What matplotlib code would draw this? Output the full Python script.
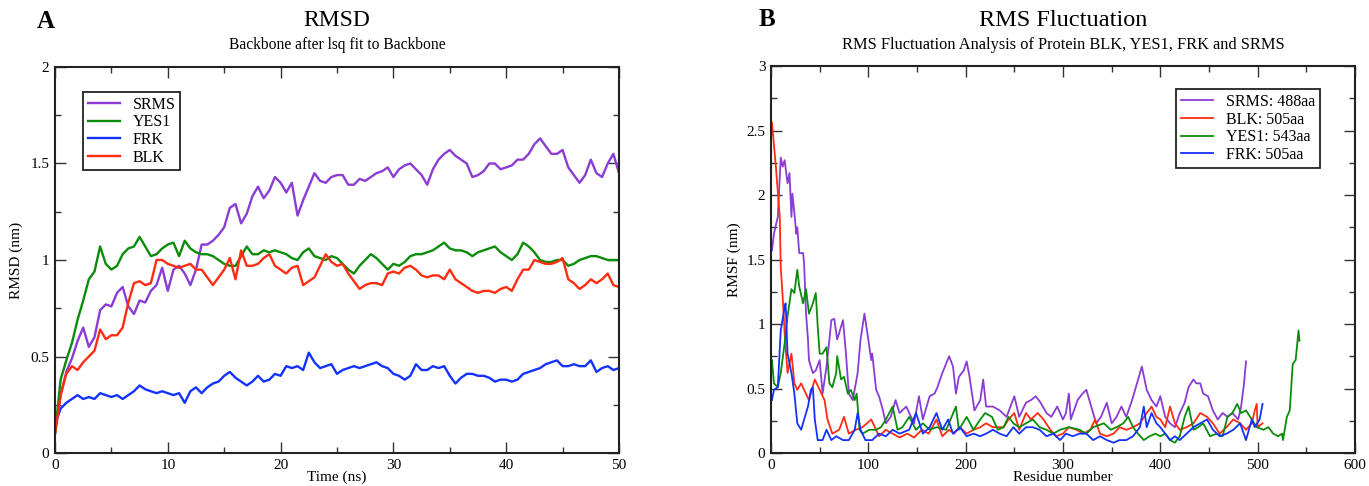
import matplotlib
matplotlib.use("Agg")
import matplotlib.pyplot as plt
from matplotlib.ticker import MultipleLocator, FuncFormatter

plt.rcParams['font.family'] = ['Liberation Serif', 'DejaVu Serif']

# ---------------- RMSD data (time in ns, RMSD in nm) ----------------
time_ns = [i * 0.5 for i in range(101)]

rmsd_srms = [0.10, 0.30, 0.42, 0.49, 0.58, 0.65, 0.55, 0.60, 0.74, 0.77,
             0.76, 0.83, 0.86, 0.76, 0.72, 0.79, 0.78, 0.84, 0.87, 0.96,
             0.84, 0.95, 0.97, 0.93, 0.87, 0.95, 1.08, 1.08, 1.10, 1.13,
             1.17, 1.27, 1.29, 1.19, 1.24, 1.33, 1.38, 1.32, 1.36, 1.43,
             1.40, 1.35, 1.40, 1.23, 1.31, 1.38, 1.45, 1.41, 1.40, 1.43,
             1.44, 1.44, 1.39, 1.39, 1.42, 1.41, 1.43, 1.45, 1.46, 1.48,
             1.43, 1.47, 1.49, 1.50, 1.47, 1.44, 1.39, 1.47, 1.52, 1.55,
             1.57, 1.54, 1.52, 1.50, 1.43, 1.44, 1.46, 1.50, 1.50, 1.47,
             1.48, 1.49, 1.52, 1.52, 1.55, 1.60, 1.63, 1.59, 1.55, 1.55,
             1.57, 1.48, 1.44, 1.40, 1.44, 1.52, 1.45, 1.43, 1.50, 1.55,
             1.45]

rmsd_yes1 = [0.10, 0.38, 0.48, 0.57, 0.69, 0.79, 0.90, 0.94, 1.07, 0.98,
             0.95, 0.97, 1.03, 1.06, 1.07, 1.12, 1.07, 1.02, 1.03, 1.06,
             1.08, 1.09, 1.02, 1.10, 1.06, 1.04, 1.03, 1.03, 1.02, 1.00,
             0.98, 0.97, 0.97, 1.02, 1.07, 1.03, 1.03, 1.05, 1.04, 1.05,
             1.04, 1.03, 1.01, 1.00, 1.04, 1.06, 1.02, 1.01, 1.00, 1.02,
             1.01, 0.98, 0.95, 0.93, 0.97, 1.00, 1.03, 1.01, 0.98, 0.95,
             0.98, 0.97, 0.99, 1.02, 1.03, 1.03, 1.04, 1.05, 1.07, 1.09,
             1.06, 1.05, 1.05, 1.04, 1.02, 1.04, 1.05, 1.06, 1.07, 1.04,
             1.02, 1.00, 1.03, 1.09, 1.07, 1.04, 1.00, 0.99, 0.99, 1.00,
             1.00, 0.97, 0.98, 1.00, 1.01, 1.02, 1.02, 1.01, 1.00, 1.00,
             1.00]

rmsd_frk = [0.15, 0.23, 0.26, 0.28, 0.30, 0.28, 0.29, 0.28, 0.31, 0.30,
            0.29, 0.30, 0.28, 0.30, 0.32, 0.35, 0.33, 0.32, 0.31, 0.32,
            0.31, 0.30, 0.31, 0.26, 0.32, 0.34, 0.31, 0.34, 0.36, 0.37,
            0.40, 0.42, 0.39, 0.37, 0.35, 0.37, 0.40, 0.37, 0.38, 0.41,
            0.40, 0.45, 0.44, 0.45, 0.43, 0.52, 0.47, 0.44, 0.45, 0.46,
            0.41, 0.43, 0.44, 0.45, 0.44, 0.45, 0.46, 0.47, 0.45, 0.44,
            0.41, 0.40, 0.38, 0.40, 0.46, 0.43, 0.43, 0.45, 0.44, 0.45,
            0.40, 0.36, 0.39, 0.41, 0.41, 0.40, 0.40, 0.39, 0.37, 0.38,
            0.38, 0.37, 0.38, 0.41, 0.42, 0.43, 0.44, 0.46, 0.47, 0.48,
            0.45, 0.45, 0.46, 0.45, 0.45, 0.48, 0.42, 0.44, 0.45, 0.43,
            0.44]

rmsd_blk = [0.10, 0.30, 0.41, 0.45, 0.43, 0.47, 0.50, 0.53, 0.64, 0.59,
            0.61, 0.61, 0.65, 0.78, 0.88, 0.89, 0.87, 0.88, 1.00, 1.00,
            0.98, 0.97, 0.96, 0.97, 0.98, 0.95, 0.95, 0.91, 0.87, 0.91,
            0.95, 1.01, 0.90, 1.05, 0.97, 0.97, 0.98, 1.01, 1.03, 0.97,
            0.95, 0.93, 0.96, 0.97, 0.87, 0.89, 0.91, 0.97, 1.03, 0.99,
            0.97, 0.98, 0.93, 0.89, 0.85, 0.87, 0.88, 0.88, 0.87, 0.93,
            0.94, 0.93, 0.96, 0.97, 0.95, 0.92, 0.91, 0.92, 0.92, 0.90,
            0.95, 0.90, 0.88, 0.86, 0.84, 0.83, 0.84, 0.84, 0.83, 0.85,
            0.86, 0.84, 0.90, 0.95, 0.95, 1.00, 0.99, 0.98, 0.98, 0.99,
            1.01, 0.90, 0.88, 0.85, 0.87, 0.90, 0.88, 0.90, 0.93, 0.87,
            0.86]

# ---------------- RMSF data (residue number, RMSF in nm) ----------------
srms_res = [1, 3, 7, 10, 12, 14, 17, 19, 21, 22, 24, 26, 27, 29, 33, 34, 36, 38, 39, 43,
            46, 50, 53, 57, 60, 62, 65, 68, 70, 74, 77, 80, 84, 89, 92, 96, 99, 103, 104, 108,
            111, 115, 118, 123, 128, 132, 139, 142, 147, 152, 156, 163, 168, 171, 176, 183, 187, 190, 193, 198,
            201, 204, 209, 215, 218, 221, 228, 235, 242, 250, 255, 262, 267, 272, 277, 283, 288, 294, 300, 303,
            306, 308, 315, 320, 324, 329, 334, 339, 345, 350, 355, 360, 365, 371, 376, 381, 386, 391, 396, 400,
            405, 410, 415, 420, 425, 429, 434, 437, 441, 444, 449, 454, 459, 464, 469, 474, 480, 483, 486, 488]
srms_val = [1.57, 1.70, 1.83, 2.29, 2.22, 2.27, 2.09, 2.17, 1.83, 2.01, 1.86, 1.70, 1.75, 1.55, 1.55, 1.47, 1.08, 0.88, 0.72, 0.62,
            0.64, 0.72, 0.46, 0.67, 0.88, 1.03, 1.04, 0.88, 0.93, 1.03, 0.77, 0.46, 0.41, 0.62, 0.88, 1.08, 0.93, 0.72, 0.77, 0.49,
            0.44, 0.33, 0.23, 0.28, 0.41, 0.31, 0.36, 0.31, 0.23, 0.44, 0.26, 0.44, 0.46, 0.51, 0.62, 0.75, 0.67, 0.46, 0.59, 0.64,
            0.71, 0.59, 0.33, 0.41, 0.57, 0.36, 0.36, 0.33, 0.28, 0.44, 0.28, 0.39, 0.41, 0.44, 0.39, 0.31, 0.28, 0.36, 0.26, 0.31,
            0.46, 0.26, 0.41, 0.46, 0.49, 0.36, 0.23, 0.28, 0.39, 0.23, 0.28, 0.36, 0.28, 0.41, 0.54, 0.67, 0.49, 0.41, 0.36, 0.44,
            0.28, 0.23, 0.20, 0.31, 0.39, 0.51, 0.57, 0.54, 0.54, 0.46, 0.44, 0.33, 0.26, 0.31, 0.28, 0.31, 0.26, 0.36, 0.54, 0.71]

blk_res = [1, 5, 9, 10, 12, 14, 17, 21, 24, 27, 31, 34, 39, 45, 50, 55, 58, 63, 70, 75,
           80, 87, 94, 103, 111, 118, 125, 132, 140, 147, 155, 162, 170, 176, 183, 188, 194, 201, 208, 215,
           221, 228, 239, 244, 250, 255, 262, 267, 274, 280, 287, 293, 300, 306, 314, 321, 328, 333, 338, 345,
           352, 358, 365, 372, 379, 386, 391, 396, 400, 405, 410, 415, 420, 427, 434, 441, 448, 454, 461, 468,
           475, 482, 488, 494, 497, 499, 500, 505]
blk_val = [2.56, 2.22, 1.83, 1.44, 1.21, 0.93, 0.62, 0.77, 0.54, 0.49, 0.54, 0.49, 0.41, 0.57, 0.49, 0.41, 0.26, 0.15, 0.18, 0.28,
           0.15, 0.18, 0.20, 0.26, 0.13, 0.18, 0.15, 0.12, 0.15, 0.12, 0.18, 0.15, 0.26, 0.13, 0.18, 0.15, 0.20, 0.15, 0.18, 0.20,
           0.23, 0.20, 0.20, 0.26, 0.31, 0.18, 0.31, 0.26, 0.31, 0.26, 0.18, 0.13, 0.15, 0.20, 0.18, 0.15, 0.18, 0.26, 0.15, 0.13,
           0.15, 0.20, 0.18, 0.20, 0.23, 0.31, 0.36, 0.28, 0.26, 0.20, 0.36, 0.23, 0.18, 0.20, 0.23, 0.31, 0.28, 0.23, 0.15, 0.20,
           0.26, 0.23, 0.18, 0.23, 0.33, 0.38, 0.20, 0.23]

yes1_res = [1, 3, 7, 10, 14, 17, 21, 24, 27, 29, 33, 36, 39, 43, 46, 48, 50, 53, 57, 60,
            63, 67, 68, 72, 75, 79, 82, 86, 88, 91, 94, 101, 108, 113, 118, 125, 130, 135, 142, 149,
            156, 163, 170, 180, 190, 193, 201, 208, 215, 220, 227, 233, 239, 244, 249, 255, 262, 269, 276, 283,
            290, 297, 306, 317, 324, 331, 342, 349, 355, 362, 367, 372, 377, 383, 389, 395, 400, 405, 410, 415,
            420, 425, 429, 434, 439, 444, 451, 458, 464, 469, 474, 479, 483, 488, 494, 499, 506, 511, 516, 521,
            525, 526, 530, 533, 536, 539, 542, 543]
yes1_val = [0.72, 0.54, 0.51, 0.62, 0.85, 1.06, 1.27, 1.24, 1.42, 1.29, 1.16, 1.27, 1.08, 1.16, 1.24, 0.98, 0.77, 0.77, 0.82, 0.54,
            0.51, 0.62, 0.75, 0.57, 0.59, 0.46, 0.49, 0.41, 0.46, 0.18, 0.15, 0.18, 0.18, 0.20, 0.26, 0.36, 0.18, 0.20, 0.28, 0.18,
            0.23, 0.18, 0.20, 0.18, 0.36, 0.18, 0.28, 0.18, 0.26, 0.31, 0.28, 0.18, 0.20, 0.28, 0.23, 0.20, 0.23, 0.26, 0.20, 0.18,
            0.15, 0.18, 0.20, 0.18, 0.15, 0.20, 0.23, 0.18, 0.20, 0.23, 0.28, 0.20, 0.15, 0.10, 0.13, 0.15, 0.13, 0.15, 0.10, 0.08,
            0.13, 0.28, 0.36, 0.18, 0.20, 0.23, 0.13, 0.15, 0.13, 0.28, 0.31, 0.38, 0.31, 0.33, 0.26, 0.20, 0.18, 0.20, 0.15, 0.13,
            0.15, 0.10, 0.28, 0.33, 0.69, 0.72, 0.95, 0.87]

frk_res = [1, 3, 7, 10, 14, 15, 17, 21, 24, 27, 31, 34, 38, 41, 43, 45, 48, 53, 57, 62,
           67, 74, 80, 86, 89, 92, 97, 104, 111, 118, 125, 132, 142, 149, 156, 163, 170, 176, 182, 187,
           194, 201, 208, 215, 221, 228, 235, 242, 249, 255, 262, 269, 276, 283, 290, 297, 303, 310, 317, 324,
           331, 338, 345, 352, 358, 365, 372, 379, 383, 386, 391, 396, 400, 405, 410, 415, 420, 427, 434, 441,
           448, 454, 461, 468, 475, 482, 488, 494, 497, 502, 505]
frk_val = [0.41, 0.49, 0.51, 0.95, 1.13, 1.16, 0.77, 0.62, 0.46, 0.23, 0.18, 0.26, 0.36, 0.49, 0.51, 0.26, 0.10, 0.10, 0.18, 0.10,
           0.13, 0.10, 0.10, 0.18, 0.31, 0.18, 0.10, 0.10, 0.15, 0.13, 0.18, 0.15, 0.18, 0.31, 0.15, 0.20, 0.31, 0.18, 0.26, 0.15,
           0.20, 0.13, 0.15, 0.13, 0.15, 0.18, 0.15, 0.13, 0.20, 0.15, 0.20, 0.20, 0.18, 0.13, 0.15, 0.10, 0.15, 0.13, 0.15, 0.15,
           0.10, 0.13, 0.10, 0.08, 0.10, 0.10, 0.13, 0.20, 0.36, 0.20, 0.31, 0.23, 0.20, 0.15, 0.10, 0.13, 0.10, 0.15, 0.20, 0.23,
           0.26, 0.18, 0.13, 0.15, 0.18, 0.23, 0.10, 0.26, 0.20, 0.26, 0.38]

C_PURPLE = '#8a3cd4'
C_GREEN = '#0a8c0a'
C_BLUE = '#1232ff'
C_RED = '#ff2c12'

W, H = 1369, 486
fig = plt.figure(figsize=(W / 100, H / 100), dpi=100)
ax1 = fig.add_axes([55 / W, 1 - 453 / H, (619 - 55) / W, (453 - 67) / H])
ax2 = fig.add_axes([771 / W, 1 - 453 / H, (1355 - 771) / W, (453 - 66) / H])

lw1 = 1.7
ax1.plot(time_ns, rmsd_srms, color=C_PURPLE, lw=lw1, label='SRMS')
ax1.plot(time_ns, rmsd_yes1, color=C_GREEN, lw=lw1, label='YES1')
ax1.plot(time_ns, rmsd_frk, color=C_BLUE, lw=lw1, label='FRK')
ax1.plot(time_ns, rmsd_blk, color=C_RED, lw=lw1, label='BLK')

lw2 = 1.3
ax2.plot(srms_res, srms_val, color=C_PURPLE, lw=lw2, label='SRMS: 488aa')
ax2.plot(blk_res, blk_val, color=C_RED, lw=lw2, label='BLK: 505aa')
ax2.plot(yes1_res, yes1_val, color=C_GREEN, lw=lw2, label='YES1: 543aa')
ax2.plot(frk_res, frk_val, color=C_BLUE, lw=lw2, label='FRK: 505aa')

fmt = FuncFormatter(lambda v, p: ('%g' % v))

ax1.set_xlim(0, 50)
ax1.set_ylim(0, 2)
ax1.xaxis.set_major_locator(MultipleLocator(10))
ax1.xaxis.set_minor_locator(MultipleLocator(5))
ax1.yaxis.set_major_locator(MultipleLocator(0.5))
ax1.yaxis.set_minor_locator(MultipleLocator(0.25))

ax2.set_xlim(0, 600)
ax2.set_ylim(0, 3)
ax2.xaxis.set_major_locator(MultipleLocator(100))
ax2.xaxis.set_minor_locator(MultipleLocator(50))
ax2.yaxis.set_major_locator(MultipleLocator(0.5))
ax2.yaxis.set_minor_locator(MultipleLocator(0.25))

for ax in (ax1, ax2):
    ax.xaxis.set_major_formatter(fmt)
    ax.yaxis.set_major_formatter(fmt)
    ax.tick_params(which='both', direction='in', top=True, right=True,
                   labelsize=11, color='#333333', width=1)
    ax.tick_params(which='major', length=8, pad=4)
    ax.tick_params(which='minor', length=4)
    for s in ax.spines.values():
        s.set_linewidth(1.5)
        s.set_color('#222222')

ax1.set_xlabel('Time (ns)', fontsize=11)
ax1.set_ylabel('RMSD (nm)', fontsize=11)
ax1.xaxis.set_label_coords(0.5, -0.046)
ax1.yaxis.set_label_coords(-0.057, 0.5)

ax2.set_xlabel('Residue number', fontsize=11)
ax2.set_ylabel('RMSF (nm)', fontsize=11)
ax2.xaxis.set_label_coords(0.5, -0.046)
ax2.yaxis.set_label_coords(-0.051, 0.5)

leg_kw = dict(fontsize=11.5, frameon=True, fancybox=False, edgecolor='#222222', framealpha=1,
              handlelength=2.0, handletextpad=0.8, borderpad=0.3, labelspacing=0.1,
              borderaxespad=0)
leg1 = ax1.legend(loc='upper left', bbox_to_anchor=(0.05, 0.935), **leg_kw)
leg1.get_frame().set_linewidth(1.3)
leg2 = ax2.legend(loc='upper right', bbox_to_anchor=(0.94, 0.94), **leg_kw)
leg2.get_frame().set_linewidth(1.3)

cx1 = (55 + 619) / 2 / W
cx2 = (771 + 1355) / 2 / W
fig.text(cx1, 1 - 20 / H, 'RMSD', ha='center', va='center', fontsize=17)
fig.text(cx1, 1 - 45 / H, 'Backbone after lsq fit to Backbone', ha='center', va='center', fontsize=11.2)
fig.text(cx2, 1 - 20 / H, 'RMS Fluctuation', ha='center', va='center', fontsize=17.5)
fig.text(cx2, 1 - 45 / H, 'RMS Fluctuation Analysis of Protein BLK, YES1, FRK and SRMS',
         ha='center', va='center', fontsize=11.8)
fig.text(46 / W, 1 - 22 / H, 'A', ha='center', va='center', fontsize=18, fontweight='bold')
fig.text(767 / W, 1 - 20 / H, 'B', ha='center', va='center', fontsize=18, fontweight='bold')

fig.savefig('out.png', dpi=100)
